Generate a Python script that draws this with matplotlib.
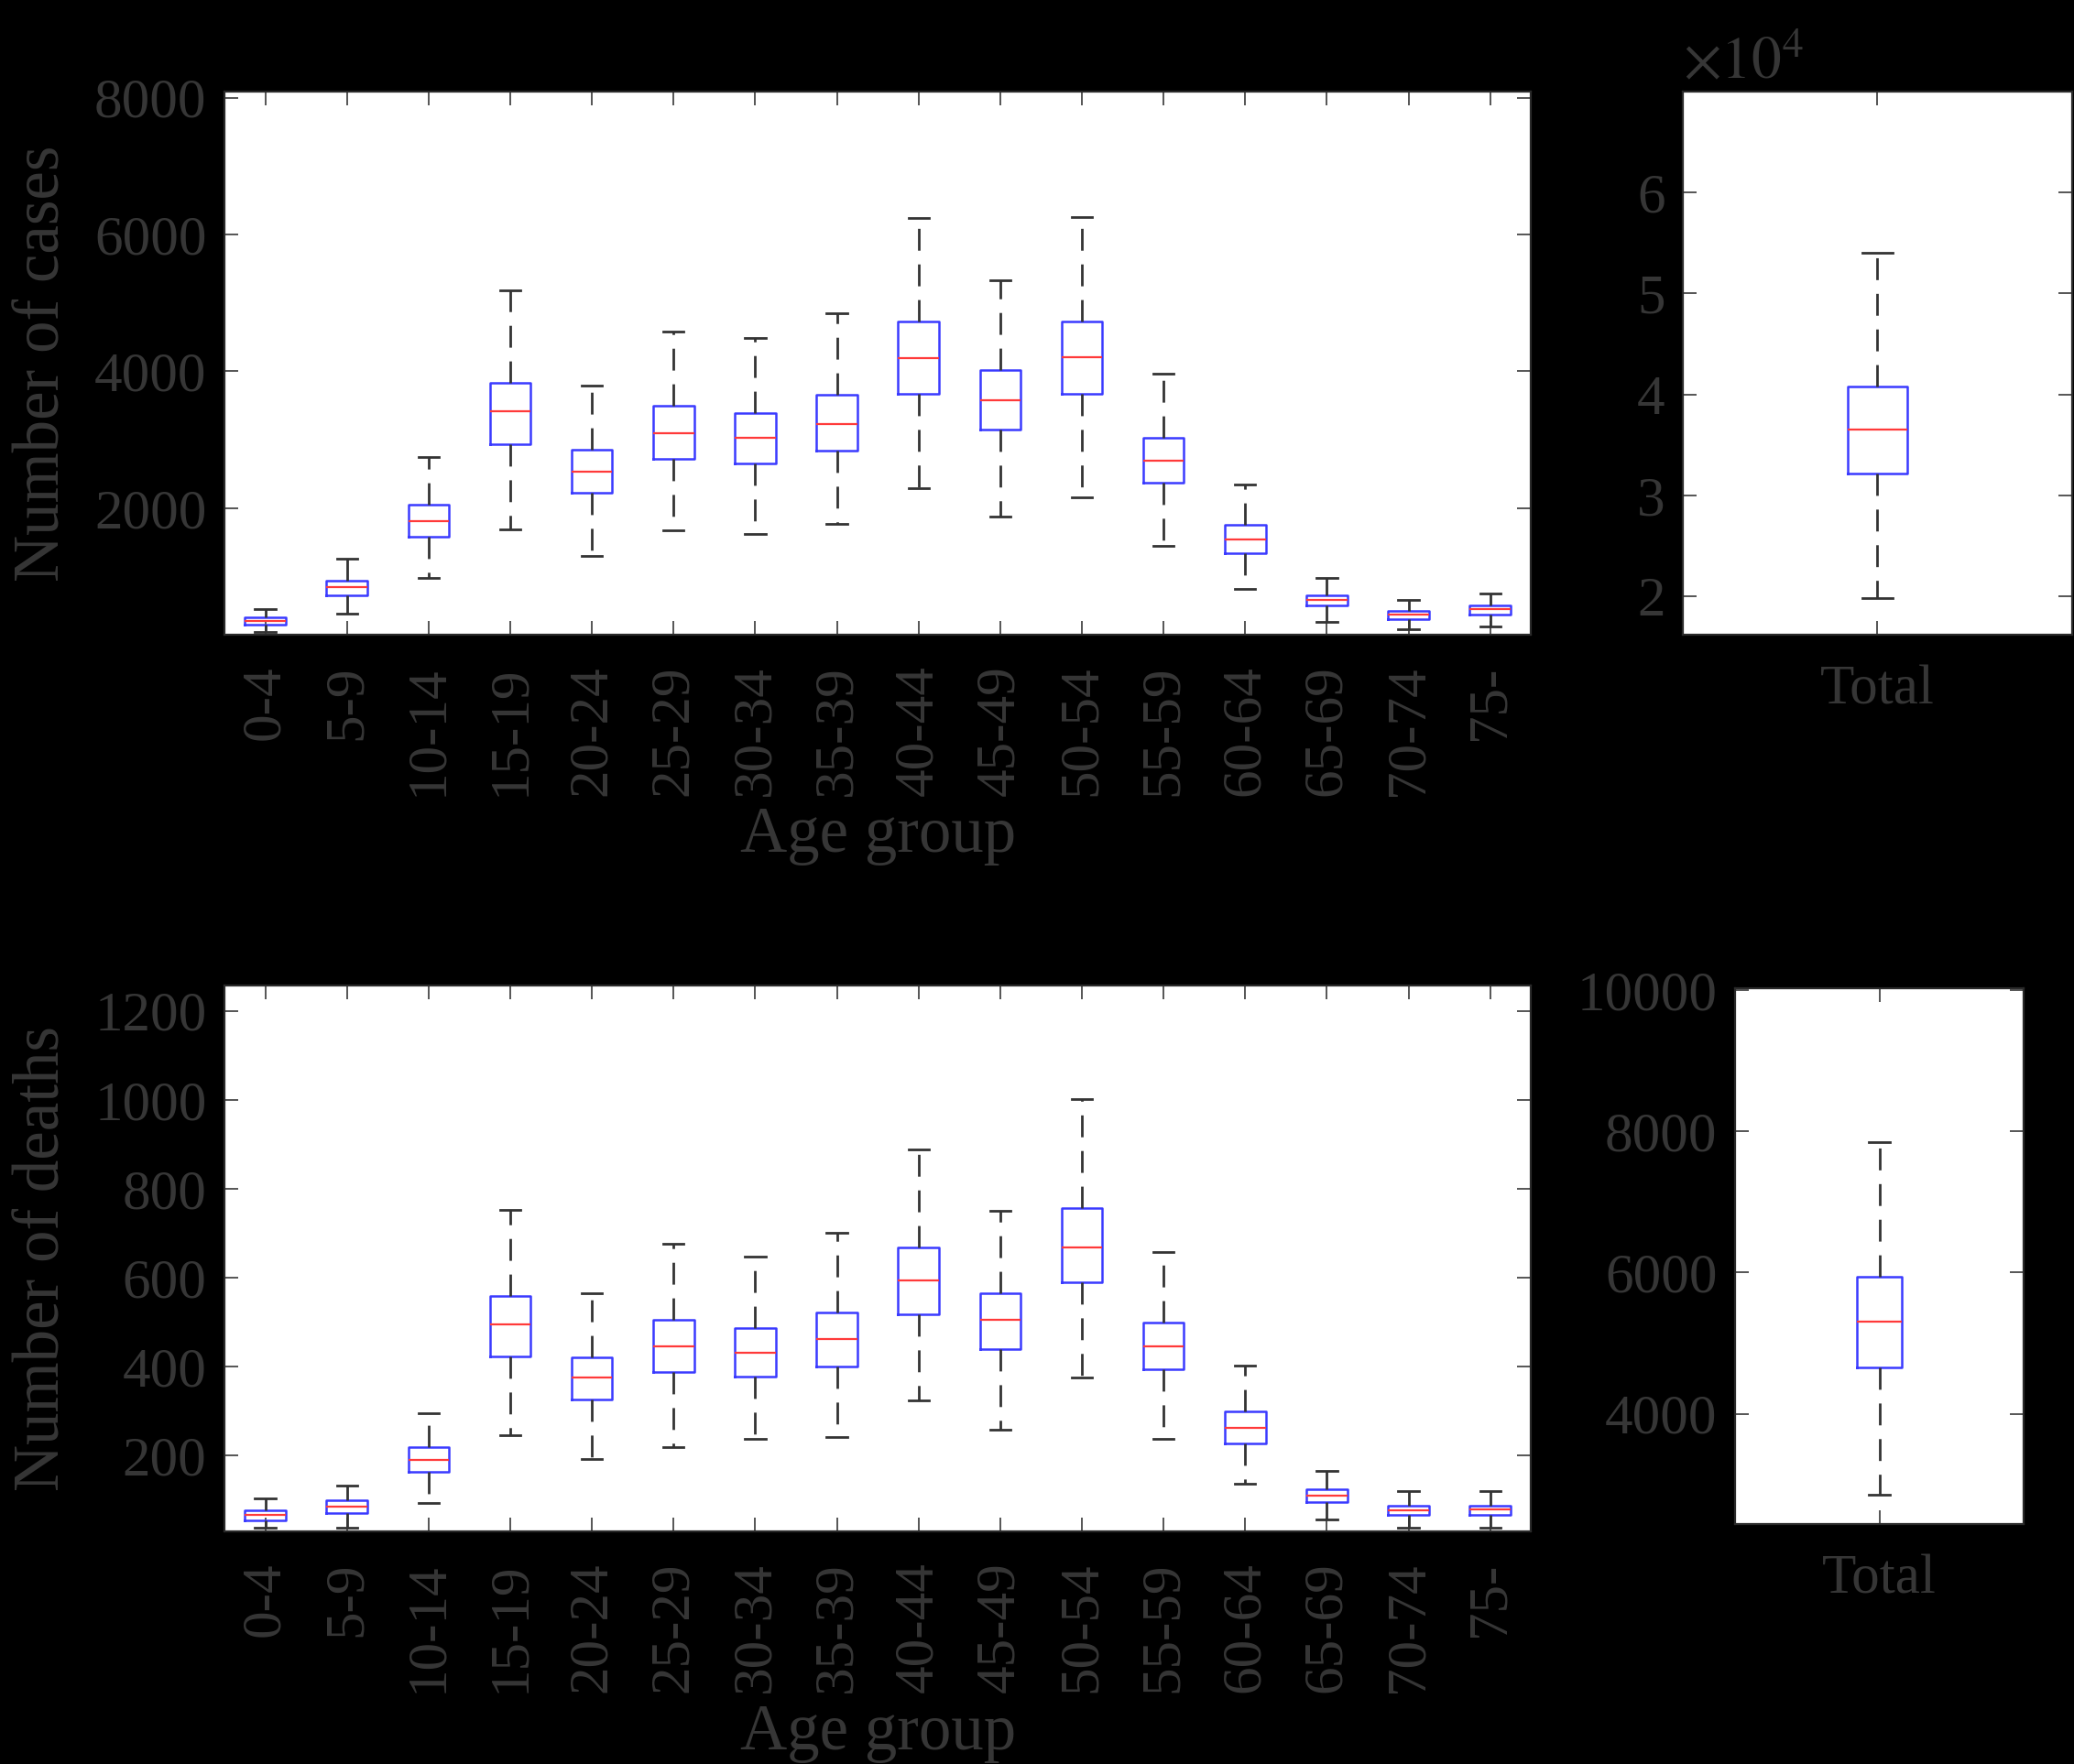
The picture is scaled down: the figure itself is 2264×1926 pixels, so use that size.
import matplotlib
matplotlib.use('Agg')
import matplotlib.pyplot as plt

plt.rcParams['font.family'] = ['Liberation Serif', 'DejaVu Serif']
plt.rcParams['mathtext.fontset'] = 'stix'

ages = ['0-4', '5-9', '10-14', '15-19', '20-24', '25-29', '30-34', '35-39',
        '40-44', '45-49', '50-54', '55-59', '60-64', '65-69', '70-74', '75-']

# cases per age group (box stats)
cases_lo = [185, 459, 974, 1684, 1295, 1679, 1616, 1773, 2294, 1878, 2162, 1442, 816, 338, 232, 269]
cases_q1 = [301, 732, 1579, 2930, 2231, 2720, 2657, 2841, 3677, 3151, 3667, 2373, 1337, 574, 380, 448]
cases_med = [354, 842, 1815, 3414, 2536, 3099, 3025, 3235, 4192, 3582, 4208, 2694, 1547, 659, 448, 522]
cases_q3 = [406, 942, 2047, 3835, 2857, 3493, 3393, 3656, 4729, 4024, 4729, 3035, 1752, 732, 501, 580]
cases_hi = [522, 1258, 2746, 5181, 3798, 4587, 4492, 4845, 6238, 5334, 6254, 3972, 2341, 974, 659, 758]

# deaths per age group
deaths_lo = [38, 39, 93, 247, 192, 220, 237, 241, 324, 259, 375, 238, 138, 57, 39, 39]
deaths_q1 = [55, 72, 163, 423, 326, 389, 378, 401, 517, 440, 590, 395, 228, 96, 67, 67]
deaths_med = [67, 86, 190, 495, 375, 446, 432, 463, 594, 505, 669, 446, 262, 111, 78, 79]
deaths_q3 = [78, 99, 219, 559, 422, 506, 488, 523, 669, 565, 757, 500, 299, 125, 88, 88]
deaths_hi = [104, 132, 296, 752, 566, 676, 648, 702, 889, 750, 1001, 658, 402, 165, 120, 120]

# totals: [whislo, q1, med, q3, whishi]
total_cases = [1.98, 3.22, 3.65, 4.08, 5.40]   # x 10^4
total_deaths = [2854, 4656, 5306, 5938, 7847]

TXT = '#363636'
BLUE = '#3a3aff'
RED = '#ff3a3a'


def stats(lo, q1, med, q3, hi):
    return [dict(whislo=a, q1=b, med=c, q3=d, whishi=e, fliers=[])
            for a, b, c, d, e in zip(lo, q1, med, q3, hi)]


def style(ax):
    ax.set_facecolor('white')
    for s in ax.spines.values():
        s.set_color('#2a2a2a')
        s.set_linewidth(1.6)
    ax.tick_params(direction='in', length=11, width=1.4, color='#555555',
                   top=True, right=True, labelcolor=TXT, labelsize=44)
    ax.tick_params(axis='x', pad=24)
    ax.tick_params(axis='y', pad=14)


def draw(ax, st, pos, width, capw):
    ax.bxp(st, positions=pos, widths=width, capwidths=capw, showfliers=False,
           boxprops=dict(color=BLUE, linewidth=1.8),
           medianprops=dict(color=RED, linewidth=1.6),
           whiskerprops=dict(color='#333333', linewidth=2.0, linestyle=(0, (8.6, 5.4))),
           capprops=dict(color='#333333', linewidth=2.0))


fig = plt.figure(figsize=(22.64, 19.26), dpi=100)
fig.patch.set_facecolor('black')

pos = list(range(1, len(ages) + 1))

# top left: cases
ax1 = fig.add_axes([0.1082, 0.6402, 0.630, 0.3079])
draw(ax1, stats(cases_lo, cases_q1, cases_med, cases_q3, cases_hi), pos, 0.5, 0.25)
ax1.set_xlim(0.5, 16.5)
ax1.set_ylim(150, 8090)
ax1.set_yticks([2000, 4000, 6000, 8000])
ax1.set_xticks(pos)
ax1.set_xticklabels(ages, rotation=90)
style(ax1)
ax1.set_ylabel('Number of cases', fontsize=51, color=TXT)
ax1.set_xlabel('Age group', fontsize=51, color=TXT, va='top')
ax1.yaxis.set_label_coords(-0.116, 0.5)
ax1.xaxis.set_label_coords(0.5, -0.315)

# top right: total cases
ax2 = fig.add_axes([0.8114, 0.6402, 0.1877, 0.3079])
t = total_cases
draw(ax2, [dict(whislo=t[0], q1=t[1], med=t[2], q3=t[3], whishi=t[4], fliers=[])],
     [1], 0.151, 0.076)
ax2.set_xlim(0.5, 1.5)
ax2.set_ylim(1.62, 7.0)
ax2.set_yticks([2, 3, 4, 5, 6])
ax2.set_yticklabels(['2', '3', '4', '5', '6'])
ax2.set_xticks([1])
ax2.set_xticklabels(['Total'])
style(ax2)
ax2.text(0.0, 1.025, r'$\times10^{4}$', transform=ax2.transAxes, fontsize=47,
         color=TXT, ha='left', va='baseline')

# bottom left: deaths
ax3 = fig.add_axes([0.1082, 0.1319, 0.630, 0.3094])
draw(ax3, stats(deaths_lo, deaths_q1, deaths_med, deaths_q3, deaths_hi), pos, 0.5, 0.25)
ax3.set_xlim(0.5, 16.5)
ax3.set_ylim(30, 1257)
ax3.set_yticks([200, 400, 600, 800, 1000, 1200])
ax3.set_xticks(pos)
ax3.set_xticklabels(ages, rotation=90)
style(ax3)
ax3.set_ylabel('Number of deaths', fontsize=51, color=TXT)
ax3.set_xlabel('Age group', fontsize=51, color=TXT, va='top')
ax3.yaxis.set_label_coords(-0.116, 0.5)
ax3.xaxis.set_label_coords(0.5, -0.315)

# bottom right: total deaths
ax4 = fig.add_axes([0.8366, 0.1360, 0.1391, 0.3037])
t = total_deaths
draw(ax4, [dict(whislo=t[0], q1=t[1], med=t[2], q3=t[3], whishi=t[4], fliers=[])],
     [1], 0.156, 0.072)
ax4.set_xlim(0.5, 1.5)
ax4.set_ylim(2437, 10024)
ax4.set_yticks([4000, 6000, 8000, 10000])
ax4.set_xticks([1])
ax4.set_xticklabels(['Total'])
style(ax4)

fig.savefig('out.png', dpi=100, facecolor='black')
